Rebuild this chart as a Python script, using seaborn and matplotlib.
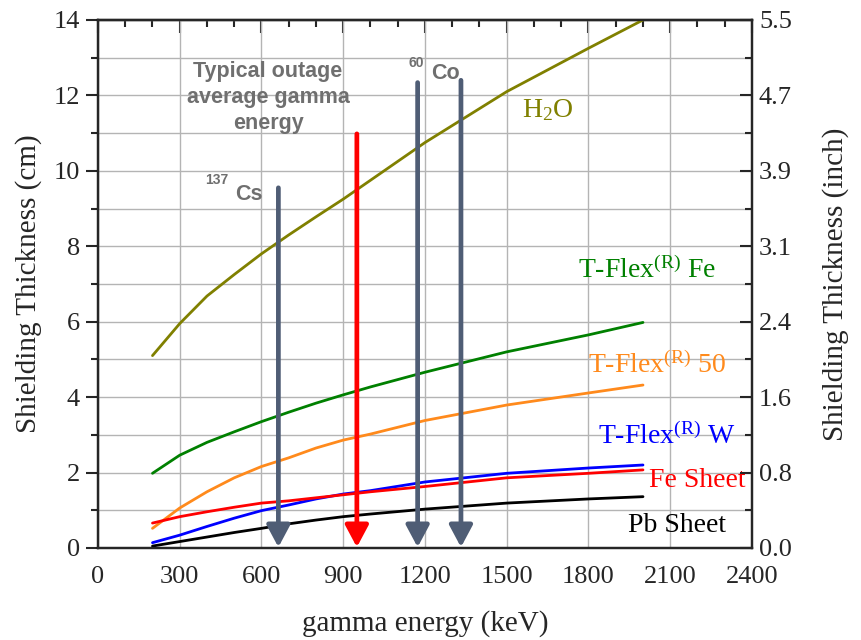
import numpy as np
import pandas as pd
import matplotlib
matplotlib.use("Agg")
import matplotlib.pyplot as plt
from matplotlib.ticker import MultipleLocator, FixedLocator, FuncFormatter
import seaborn as sns

# gamma energy (keV) where the curves are sampled
energy = [200, 300, 400, 500, 600, 700, 800, 900, 1000, 1200, 1500, 1800, 2000]

# shielding thickness (cm)
h2o = [5.1, 5.95, 6.68, 7.25, 7.8, 8.3, 8.78, 9.25, 9.75, 10.75, 12.1, 13.25, 14.0]
tflex_fe = [1.98, 2.46, 2.8, 3.08, 3.35, 3.6, 3.84, 4.06, 4.27, 4.66, 5.2, 5.65, 5.98]
tflex_50 = [0.52, 1.06, 1.49, 1.86, 2.16, 2.39, 2.65, 2.86, 3.02, 3.38, 3.79, 4.11, 4.32]
tflex_w = [0.14, 0.34, 0.57, 0.79, 0.99, 1.14, 1.3, 1.43, 1.52, 1.75, 1.98, 2.12, 2.2]
fe_sheet = [0.66, 0.83, 0.96, 1.08, 1.19, 1.25, 1.33, 1.41, 1.49, 1.63, 1.86, 1.98, 2.07]
pb_sheet = [0.05, 0.17, 0.29, 0.41, 0.52, 0.64, 0.74, 0.83, 0.9, 1.03, 1.19, 1.3, 1.36]

materials = ["H2O", "T-Flex Fe", "T-Flex 50", "T-Flex W", "Fe Sheet", "Pb Sheet"]
colors = ["#808000", "#008000", "#ff8a1c", "#0000ff", "#ff0000", "#000000"]

# isotope / typical energies marked with arrows
arrow_energy = [662, 950, 1173, 1332]
arrow_top = [9.55, 10.98, 12.34, 12.4]
arrow_color = ["#4f5d75", "#ff0000", "#4f5d75", "#4f5d75"]

right_ticks = [0, 2, 4, 6, 8, 10, 12, 14]

rows = []
for name, vals in zip(materials, [h2o, tflex_fe, tflex_50, tflex_w, fe_sheet, pb_sheet]):
    for e, v in zip(energy, vals):
        rows.append({"energy": e, "thickness": v, "material": name})
df = pd.DataFrame(rows)

sns.set_style("white")
plt.rcParams["font.family"] = ["Liberation Serif", "DejaVu Serif"]
plt.rcParams["mathtext.fontset"] = "custom"
plt.rcParams["mathtext.rm"] = "Liberation Serif"
plt.rcParams["mathtext.it"] = "Liberation Serif:italic"

fig = plt.figure(figsize=(8.61, 6.4), dpi=100)
ax = fig.add_axes([0.1138, 0.1438, 0.7596, 0.8250])

sns.lineplot(data=df, x="energy", y="thickness", hue="material",
             palette=dict(zip(materials, colors)), linewidth=2,
             legend=False, ax=ax, zorder=3)

ax.set_xlim(0, 2400)
ax.set_ylim(0, 14)
ax.xaxis.set_major_locator(MultipleLocator(300))
ax.xaxis.set_minor_locator(MultipleLocator(100))
ax.yaxis.set_major_locator(MultipleLocator(2))
ax.yaxis.set_minor_locator(MultipleLocator(1))
ax.grid(True, which="major", color="#b4b4b4", lw=1)
ax.grid(True, which="minor", axis="y", color="#b4b4b4", lw=1)
ax.set_axisbelow(True)

for s in ax.spines.values():
    s.set_linewidth(1.6)
    s.set_color("black")

ax.tick_params(axis="both", which="major", labelsize=19, length=9, width=1.5,
               direction="out", top=False, right=False)
ax.tick_params(axis="both", which="minor", length=5, width=1.5, direction="out",
               top=False, right=False)
ax.tick_params(axis="x", pad=4)
ax.tick_params(axis="y", pad=4)

# top ticks pointing inward
top = ax.secondary_xaxis("top")
top.set_xticks(np.arange(0, 2401, 300))
top.xaxis.set_minor_locator(MultipleLocator(100))
top.tick_params(which="major", direction="in", length=9, width=1.5, labeltop=False)
top.tick_params(which="minor", direction="in", length=5, width=1.5)
top.spines["top"].set_linewidth(1.6)

# right axis in inches
ax2 = ax.twinx()
ax2.set_ylim(0, 14)
ax2.yaxis.set_major_locator(FixedLocator(right_ticks))
ax2.yaxis.set_minor_locator(MultipleLocator(1))
ax2.yaxis.set_major_formatter(FuncFormatter(lambda v, p: f"{v / 2.54:.1f}"))
ax2.tick_params(which="major", direction="in", length=9, width=1.5, labelsize=19, pad=5)
ax2.tick_params(which="minor", direction="in", length=5, width=1.5)
for s in ax2.spines.values():
    s.set_linewidth(1.6)
ax2.grid(False)
ax2.set_ylabel("Shielding Thickness (inch)", fontsize=21, labelpad=22)

ax.set_xlabel("gamma energy (keV)", fontsize=21, labelpad=16)
ax.set_ylabel("Shielding Thickness (cm)", fontsize=21, labelpad=8)

# arrows
for e, t, c in zip(arrow_energy, arrow_top, arrow_color):
    ax.annotate("", xy=(e, 0.02), xytext=(e, t),
                arrowprops=dict(arrowstyle="-|>,head_length=0.6,head_width=0.32",
                                color=c, lw=3.4, mutation_scale=22,
                                shrinkA=0, shrinkB=0), zorder=4)

sans = ["Liberation Sans", "DejaVu Sans"]
grey = "#6f6f6f"
ax.text(624, 11.95, "Typical outage\naverage gamma\nenergy", ha="center", va="center",
        fontsize=15.5, fontweight="bold", color=grey, family=sans, linespacing=1.3)
ax.text(503, 9.38, "Cs", ha="left", va="center", fontsize=15.5, fontweight="bold",
        color=grey, family=sans)
ax.text(478, 9.75, "137", ha="right", va="center", fontsize=10, fontweight="bold",
        color=grey, family=sans)
ax.text(1222, 12.58, "Co", ha="left", va="center", fontsize=15.5, fontweight="bold",
        color=grey, family=sans)
ax.text(1195, 12.85, "60", ha="right", va="center", fontsize=10, fontweight="bold",
        color=grey, family=sans)

ax.text(1652, 11.6, "H$_2$O", color=colors[0], fontsize=20, ha="center", va="center")
ax.text(2015, 7.35, "T-Flex$^{\\rm(R)}$ Fe", color=colors[1], fontsize=20, ha="center", va="center")
ax.text(2050, 4.85, "T-Flex$^{\\rm(R)}$ 50", color=colors[2], fontsize=20, ha="center", va="center")
ax.text(2088, 2.95, "T-Flex$^{\\rm(R)}$ W", color=colors[3], fontsize=20, ha="center", va="center")
ax.text(2198, 1.8, "Fe Sheet", color=colors[4], fontsize=20, ha="center", va="center")
ax.text(2125, 0.6, "Pb Sheet", color=colors[5], fontsize=20, ha="center", va="center")

fig.savefig("out.png", dpi=100)
